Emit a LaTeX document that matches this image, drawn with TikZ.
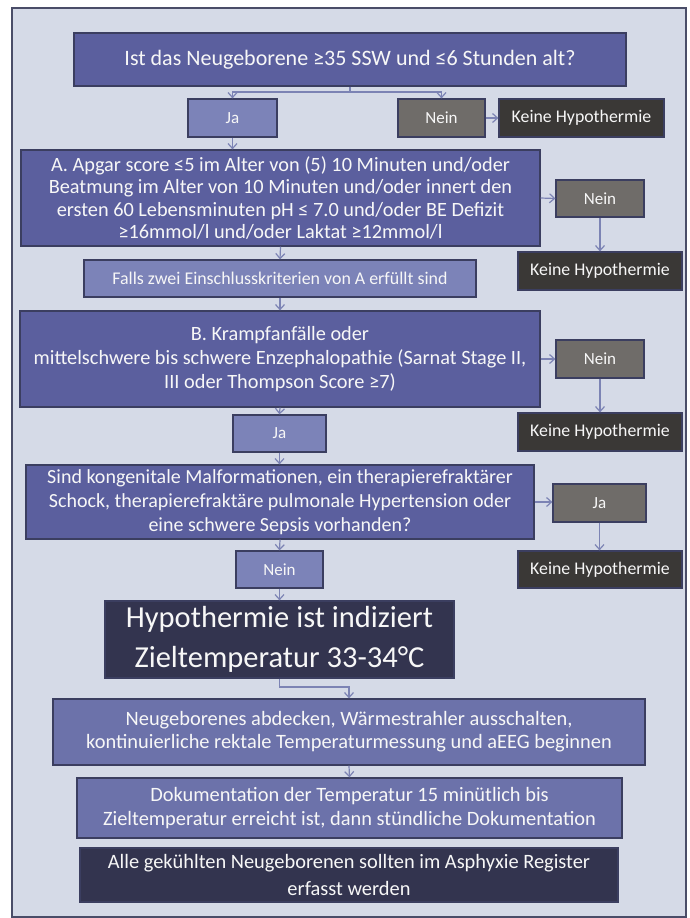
\documentclass[tikz,border=0pt]{standalone}
\usepackage{fontspec}
\setmainfont{Carlito}
\usetikzlibrary{arrows.meta}
\definecolor{paper}{HTML}{D5DAE7}
\definecolor{framecol}{HTML}{4A4D68}
\definecolor{mainblue}{HTML}{5B5F9E}
\definecolor{lightblue}{HTML}{7C83B8}
\definecolor{midblue}{HTML}{6C72AA}
\definecolor{greyish}{HTML}{6F6C69}
\definecolor{darkgrey}{HTML}{3A3836}
\definecolor{navy}{HTML}{33344F}
\definecolor{edgecol}{HTML}{3B3E60}
\definecolor{arrowcol}{HTML}{7C83B4}
\tikzset{
	flowbox/.style={draw=edgecol, line width=1.2pt, text=white!94!gray, align=center, inner sep=0pt},
	mainbox/.style={flowbox, fill=mainblue, font=\fontsize{20.3}{22.5}\selectfont},
	lightbox/.style={flowbox, fill=lightblue, font=\fontsize{17}{20}\selectfont},
	midbox/.style={flowbox, fill=midblue, font=\fontsize{20.4}{23.5}\selectfont},
	greybox/.style={flowbox, fill=greyish, font=\fontsize{17}{20}\selectfont},
	keinebox/.style={flowbox, fill=darkgrey, font=\fontsize{17.8}{20}\selectfont},
	navybox/.style={flowbox, fill=navy},
	arr/.style={draw=arrowcol, line width=1.2pt, -{Straight Barb[length=5pt,width=9pt]}},
	link/.style={draw=arrowcol, line width=1.2pt}
}
\begin{document}
\begin{tikzpicture}[x=1pt,y=-1pt]
	\useasboundingbox (0,0) rectangle (689,918);
	\draw[fill=paper, draw=framecol, line width=1.5pt] (12,8) rectangle (686,917);

	\node[mainbox, minimum width=552pt, minimum height=53pt, font=\fontsize{22}{26}\selectfont] (q) at (350,59.5) {Ist das Neugeborene ≥35 SSW und ≤6 Stunden alt?};
	\node[lightbox, minimum width=89pt, minimum height=38pt] (ja1) at (232.5,118) {Ja};
	\node[greybox, minimum width=87pt, minimum height=38pt] (nein1) at (441.5,118) {Nein};
	\node[keinebox, minimum width=165pt, minimum height=38pt] (keine1) at (581.5,118) {Keine Hypothermie};

	\node[mainbox, minimum width=519pt, minimum height=96pt] (a) at (280.5,198) {A. Apgar score ≤5 im Alter von (5) 10 Minuten und/oder\\Beatmung im Alter von 10 Minuten und/oder innert den\\ersten 60 Lebensminuten pH ≤ 7.0 und/oder BE Defizit\\≥16mmol/l und/oder Laktat ≥12mmol/l};
	\node[greybox, minimum width=88pt, minimum height=37pt] (nein2) at (600,198.5) {Nein};
	\node[keinebox, minimum width=164pt, minimum height=38pt] (keine2) at (600,271) {Keine Hypothermie};
	\node[lightbox, minimum width=392pt, minimum height=37pt, font=\fontsize{17.9}{20}\selectfont] (falls) at (280,278.5) {Falls zwei Einschlusskriterien von A erfüllt sind};

	\node[mainbox, minimum width=520pt, minimum height=96pt, font=\fontsize{20.3}{24}\selectfont] (b) at (280,359) {B. Krampfanfälle oder\\mittelschwere bis schwere Enzephalopathie (Sarnat Stage II,\\III oder Thompson Score ≥7)};
	\node[greybox, minimum width=88pt, minimum height=38pt] (nein3) at (600,359) {Nein};
	\node[keinebox, minimum width=164pt, minimum height=38pt] (keine3) at (600,432) {Keine Hypothermie};
	\node[lightbox, minimum width=93pt, minimum height=37pt] (ja3) at (279.5,433.5) {Ja};

	\node[mainbox, minimum width=508pt, minimum height=74pt, font=\fontsize{20}{24}\selectfont] (c) at (280,502) {Sind kongenitale Malformationen, ein therapierefraktärer\\Schock, therapierefraktäre pulmonale Hypertension oder\\eine schwere Sepsis vorhanden?};
	\node[greybox, minimum width=93pt, minimum height=38pt] (ja4) at (599.5,503) {Ja};
	\node[keinebox, minimum width=164pt, minimum height=37pt] (keine4) at (600,569.5) {Keine Hypothermie};
	\node[lightbox, minimum width=87pt, minimum height=37pt] (nein5) at (279.5,569.5) {Nein};

	\node[navybox, minimum width=349pt, minimum height=77pt, font=\fontsize{30.5}{40}\selectfont] (hypo) at (279.5,639.5) {Hypothermie ist indiziert\\Zieltemperatur 33-34°C};
	\node[midbox, minimum width=592pt, minimum height=66pt, font=\fontsize{20.4}{23}\selectfont] (neug) at (349,732) {Neugeborenes abdecken, Wärmestrahler ausschalten,\\kontinuierliche rektale Temperaturmessung und aEEG beginnen};
	\node[midbox, minimum width=545pt, minimum height=60pt] (doku) at (349.5,808) {Dokumentation der Temperatur 15 minütlich bis\\Zieltemperatur erreicht ist, dann stündliche Dokumentation};
	\node[navybox, minimum width=538pt, minimum height=54pt, font=\fontsize{20.4}{26.5}\selectfont] (alle) at (349,875) {Alle gekühlten Neugeborenen sollten im Asphyxie Register\\erfasst werden};

	\coordinate (qsplit) at (350,92);
	\draw[link] (q.south) -- (qsplit);
	\draw[arr] (qsplit) -| (ja1.north);
	\draw[arr] (qsplit) -| (nein1.north);
	\draw[arr] (nein1.east) -- (keine1.west);
	\draw[arr] (ja1.south) -- (ja1.south |- a.north);
	\draw[arr] (a.east) -- (nein2.west);
	\draw[arr] (nein2.south) -- (keine2.north);
	\draw[arr] (a.south) -- (falls.north);
	\draw[arr] (falls.south) -- (falls.south |- b.north);
	\draw[arr] (b.east) -- (nein3.west);
	\draw[arr] (nein3.south) -- (keine3.north);
	\draw[arr] (b.south) -- (ja3.north);
	\draw[arr] (ja3.south) -- (ja3.south |- c.north);
	\draw[arr] (c.east) -- (c.east -| ja4.west);
	\draw[arr] (ja4.south) -- (ja4.south |- keine4.north);
	\draw[arr] (c.south) -- (nein5.north);
	\draw[arr] (nein5.south) -- (hypo.north);
	\coordinate (hbend) at (279.5,687);
	\draw[arr] (hypo.south) -- (hbend) -| (neug.north);
	\draw[arr] (neug.south) -- (doku.north);
\end{tikzpicture}
\end{document}
